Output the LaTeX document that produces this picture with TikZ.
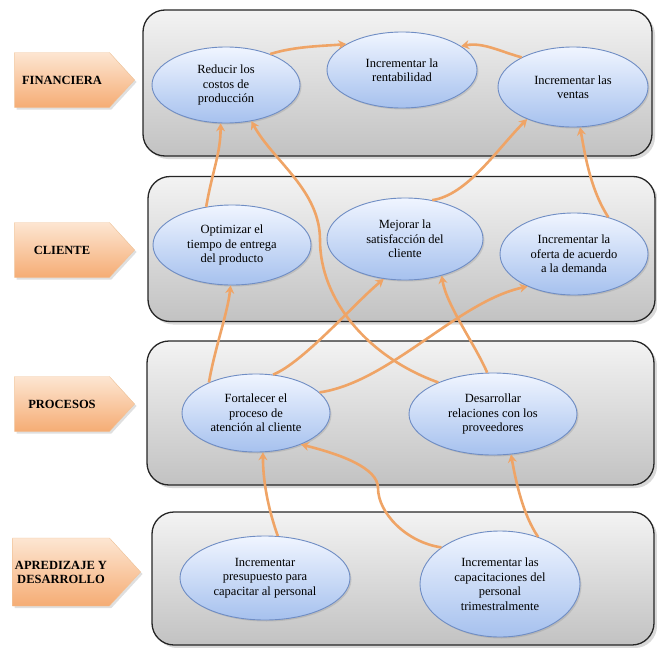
\documentclass[tikz,border=0pt]{standalone}
\usepackage{fontspec}
\setmainfont{Liberation Serif}
\usepackage{xcolor}
\definecolor{laneTop}{HTML}{F3F3F3}
\definecolor{laneBot}{HTML}{C2C2C2}
\definecolor{goalTop}{HTML}{F0F5FF}
\definecolor{goalBot}{HTML}{A6C1EE}
\definecolor{goalEdge}{HTML}{6F8DC4}
\definecolor{tagTop}{HTML}{FDE6D2}
\definecolor{tagBot}{HTML}{F5AC74}
\definecolor{tagEdge}{HTML}{F1C398}
\definecolor{linkOrange}{HTML}{EFA466}
\usetikzlibrary{shapes,shapes.geometric,shapes.symbols,arrows.meta,shadows}
\tikzset{%
  laneBox/.style={%
    rectangle,
    rounded corners=22pt,
    draw=black!85,
    line width=1.3pt,
    top color=laneTop,
    bottom color=laneBot,
    drop shadow={shadow xshift=3pt,shadow yshift=-3pt,opacity=.3},
    inner sep=0pt
  },
  tagArrow/.style={%
    signal,
    signal to=east,
    signal pointer angle=95,
    draw=tagEdge,
    top color=tagTop,
    bottom color=tagBot,
    drop shadow={shadow xshift=2pt,shadow yshift=-2pt,opacity=.25},
    font=\fontsize{12.5}{14}\selectfont\bfseries,
    minimum width=120pt,
    minimum height=55pt,
    inner sep=2pt,
    align=center
  },
  goal/.style={%
    ellipse,
    draw=goalEdge,
    line width=.9pt,
    top color=goalTop,
    bottom color=goalBot,
    drop shadow={shadow xshift=1.5pt,shadow yshift=-1.5pt,opacity=.25},
    font=\fontsize{12.5}{14.5}\selectfont,
    inner sep=0pt,
    align=center
  },
  link/.style={%
    draw=linkOrange,
    line width=2.6pt,
    -{Stealth[length=8pt,width=9pt]}
  }
}

\begin{document}
\begin{tikzpicture}[x=1pt,y=-1pt]
  \useasboundingbox (0,0) rectangle (657,648);

  \node[laneBox, minimum width=509pt, minimum height=146pt] (finLane) at (397.5,83) {};
  \node[laneBox, minimum width=507pt, minimum height=145pt] (cliLane) at (401.5,249) {};
  \node[laneBox, minimum width=507pt, minimum height=144pt] (proLane) at (400.5,413) {};
  \node[laneBox, minimum width=502pt, minimum height=133pt] (aprLane) at (403,578.5) {};

  \node[tagArrow] (finTag) at (62,80) {FINANCIERA};
  \node[tagArrow] (cliTag) at (62,250) {CLIENTE};
  \node[tagArrow] (proTag) at (62,404) {PROCESOS};
  \node[tagArrow, minimum width=128pt, minimum height=68pt] (aprTag) at (61,572) {APREDIZAJE Y\\DESARROLLO};

  \node[goal, minimum width=148pt, minimum height=76pt] (costos) at (226,85) {Reducir los\\costos de\\producción};
  \node[goal, minimum width=150pt, minimum height=76pt] (rentab) at (402,70) {Incrementar la\\rentabilidad};
  \node[goal, minimum width=150pt, minimum height=80pt] (ventas) at (573,87) {Incrementar las\\ventas};

  \node[goal, minimum width=158pt, minimum height=80pt] (entrega) at (232,245) {Optimizar el\\tiempo de entrega\\del producto};
  \node[goal, minimum width=156pt, minimum height=82pt] (satisf) at (405,239) {Mejorar la\\satisfacción del\\cliente};
  \node[goal, minimum width=148pt, minimum height=82pt] (oferta) at (574,254) {Incrementar la\\oferta de acuerdo\\a la demanda};

  \node[goal, minimum width=148pt, minimum height=78pt] (atencion) at (256,413) {Fortalecer el\\proceso de\\atención al cliente};
  \node[goal, minimum width=168pt, minimum height=82pt] (proveed) at (493,414) {Desarrollar\\relaciones con los\\proveedores};

  \node[goal, minimum width=170pt, minimum height=84pt] (presup) at (265,578) {Incrementar\\presupuesto para\\capacitar al personal};
  \node[goal, minimum width=160pt, minimum height=106pt] (capacit) at (500,584) {Incrementar las\\capacitaciones del\\personal\\trimestralmente};

  \draw[link] (costos.35) .. controls +(25,-8) and +(-22,2) .. (rentab.155);
  \draw[link] (ventas.150) .. controls +(-22,-6) and +(22,-4) .. (rentab.22);
  \draw[link] (entrega.124) .. controls +(6,-35) and +(0,30) .. (costos.262);
  \draw[link] (proveed.150) .. controls +(-70,-25) and +(0,60) .. (320,240) .. controls +(0,-50) and +(22,40) .. (costos.305);
  \draw[link] (satisf.55) .. controls +(35,-5) and +(-30,30) .. (ventas.215);
  \draw[link] (oferta.47) .. controls +(-18,-28) and +(5,28) .. (ventas.280);
  \draw[link] (atencion.147) .. controls +(6,-35) and +(-3,28) .. (entrega.268);
  \draw[link] (atencion.66) .. controls +(30,-12) and +(-30,25) .. (satisf.242);
  \draw[link] (atencion.18) .. controls +(70,-10) and +(-70,15) .. (oferta.215);
  \draw[link] (proveed.98) .. controls +(-12,-28) and +(5,30) .. (satisf.315);
  \draw[link] (presup.73) .. controls +(-10,-28) and +(0,28) .. (atencion.280);
  \draw[link] (capacit.148) .. controls +(-35,-5) and +(0,25) .. (378,488) .. controls +(0,-20) and +(40,10) .. (atencion.325);
  \draw[link] (capacit.51) .. controls +(-15,-22) and +(5,28) .. (proveed.294);
\end{tikzpicture}
\end{document}
